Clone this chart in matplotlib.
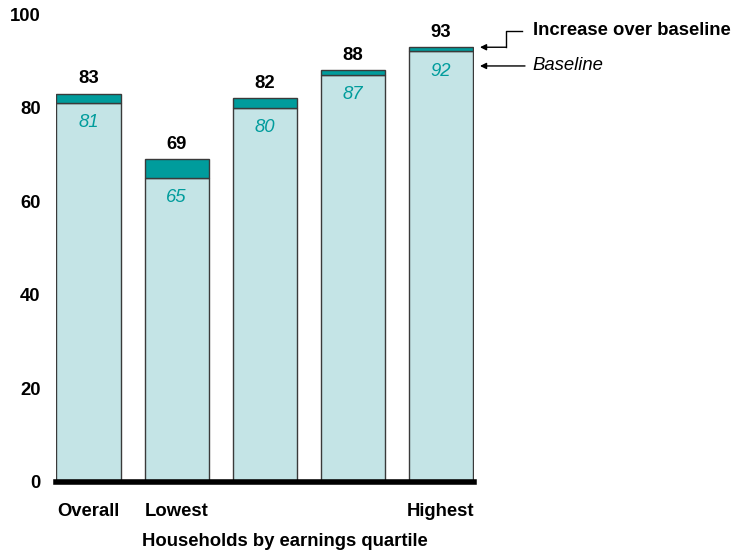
import numpy as np
import matplotlib
matplotlib.use("Agg")
import matplotlib.pyplot as plt

plt.rcParams['font.family'] = ['Liberation Sans', 'DejaVu Sans']

# share of households, baseline and with the increase on top
groups = ["Overall", "Lowest", "", "", "Highest"]
baseline = [81, 65, 80, 87, 92]
total = [83, 69, 82, 88, 93]
yticks = [0, 20, 40, 60, 80, 100]

light = "#c4e4e6"
teal = "#009c9c"
edge = "#3a3a3a"
fs = 13.3

fig = plt.figure(figsize=(7.42, 5.56), dpi=100)
ax = fig.add_axes([0.0755, 0.1331, 0.563, 0.8417])

x = np.arange(len(groups))
w = 0.727
increase = [t - b for t, b in zip(total, baseline)]
ax.bar(x, baseline, width=w, color=light, edgecolor=edge, linewidth=1)
ax.bar(x, increase, bottom=baseline, width=w, color=teal, edgecolor=edge, linewidth=1)

for xi, b, t in zip(x, baseline, total):
    ax.text(xi, t + 1.3, str(t), ha="center", va="bottom", fontsize=fs,
            fontweight="bold", color="black")
    ax.text(xi, b - 2.4, str(b), ha="center", va="top", fontsize=fs,
            fontstyle="italic", color=teal)

ax.set_xlim(-w / 2 - 0.005, len(groups) - 1 + w / 2 + 0.01)
ax.set_ylim(0, 100)
ax.set_yticks(yticks)
ax.set_yticklabels([str(v) for v in yticks], fontsize=fs, fontweight="bold")
ax.set_xticks(x)
ax.set_xticklabels(groups, fontsize=fs, fontweight="bold")
ax.tick_params(axis="y", length=0, pad=11)
ax.tick_params(axis="x", length=0, pad=15)
for s in ["top", "right", "left"]:
    ax.spines[s].set_visible(False)
ax.spines["bottom"].set_linewidth(4)
ax.spines["bottom"].set_color("black")
ax.set_xlabel("Households by earnings quartile", fontsize=fs, fontweight="bold")
ax.xaxis.set_label_coords(0.549, -0.109)

# key on the right, pointing at the last bar
ax.plot([4.92, 4.739, 4.739], [96.4, 96.4, 92.9], color="black", lw=1, clip_on=False)
ax.annotate("", xy=(4.444, 92.9), xytext=(4.739, 92.9),
            arrowprops=dict(arrowstyle="-|>", color="black", lw=1, mutation_scale=9,
                            shrinkA=0, shrinkB=0),
            annotation_clip=False)
ax.text(5.044, 96.4, "Increase over baseline", ha="left", va="center",
        fontsize=fs, fontweight="bold", clip_on=False)
ax.annotate("", xy=(4.444, 88.9), xytext=(4.955, 88.9),
            arrowprops=dict(arrowstyle="-|>", color="black", lw=1, mutation_scale=9,
                            shrinkA=0, shrinkB=0),
            annotation_clip=False)
ax.text(5.044, 88.9, "Baseline", ha="left", va="center", fontsize=fs,
        fontstyle="italic", clip_on=False)

fig.savefig("out.png", dpi=100)
